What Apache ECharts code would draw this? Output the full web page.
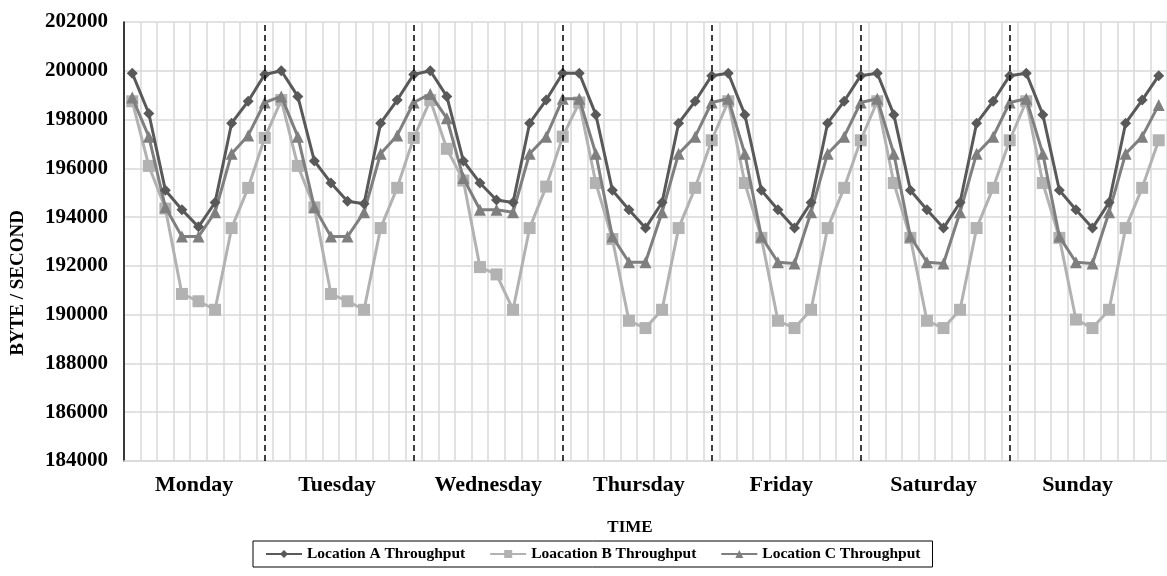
<!DOCTYPE html>
<html>
<head>
<meta charset="utf-8">
<script src="https://cdn.jsdelivr.net/npm/echarts@6/dist/echarts.min.js"></script>
<style>
  html, body { margin: 0; padding: 0; background: #fff; }
  #chart { width: 1167px; height: 576px; }
</style>
</head>
<body>
<div id="chart"></div>
<script>
// ---- data ----
const days = ['Monday', 'Tuesday', 'Wednesday', 'Thursday', 'Friday', 'Saturday', 'Sunday'];
const slotsPerDay = 9;
const dayDividers = [8, 17, 26, 35, 44, 53];
const yTicks = { min: 184000, max: 202000, step: 2000 };

const seriesNames = ['Location A Throughput', 'Loacation B Throughput', 'Location C Throughput'];

const locationA = [
  199900, 198250, 195100, 194300, 193600, 194600, 197850, 198750, 199850,
  200000, 198950, 196300, 195400, 194650, 194550, 197850, 198800, 199850,
  200000, 198950, 196300, 195400, 194700, 194600, 197850, 198800, 199900,
  199900, 198200, 195100, 194300, 193550, 194600, 197850, 198750, 199800,
  199900, 198200, 195100, 194300, 193550, 194600, 197850, 198750, 199800,
  199900, 198200, 195100, 194300, 193550, 194600, 197850, 198750, 199800,
  199900, 198200, 195100, 194300, 193550, 194600, 197850, 198800, 199800
];
const locationB = [
  198750, 196100, 194350, 190850, 190550, 190200, 193550, 195200, 197250,
  198800, 196100, 194400, 190850, 190550, 190200, 193550, 195200, 197250,
  198800, 196800, 195500, 191950, 191650, 190200, 193550, 195250, 197300,
  198700, 195400, 193100, 189750, 189450, 190200, 193550, 195200, 197150,
  198750, 195400, 193150, 189750, 189450, 190200, 193550, 195200, 197150,
  198750, 195400, 193150, 189750, 189450, 190200, 193550, 195200, 197150,
  198750, 195400, 193150, 189800, 189450, 190200, 193550, 195200, 197150
];
const locationC = [
  198900, 197300, 194400, 193200, 193200, 194200, 196600, 197350, 198700,
  198950, 197300, 194400, 193200, 193200, 194200, 196600, 197350, 198700,
  199050, 198050, 195600, 194300, 194300, 194200, 196600, 197300, 198850,
  198850, 196600, 193200, 192150, 192150, 194200, 196600, 197300, 198700,
  198850, 196600, 193200, 192150, 192100, 194200, 196600, 197300, 198700,
  198850, 196600, 193200, 192150, 192100, 194200, 196600, 197300, 198700,
  198850, 196600, 193200, 192150, 192100, 194200, 196600, 197300, 198600
];

// ---- layout (not data) ----
const dayLabelCenters = [3.73, 12.36, 21.5, 30.6, 39.2, 48.4, 57.1];
const FONT = '"Liberation Serif", "Times New Roman", serif';

const categories = [];
days.forEach(d => { for (let s = 1; s <= slotsPerDay; s++) categories.push(d + ' ' + s); });

const chart = echarts.init(document.getElementById('chart'), null, { renderer: 'canvas' });

const colors = ['#595959', '#b2b2b2', '#7f7f7f'];
const symbols = ['diamond', 'rect', 'triangle'];
const symbolSizes = [11, 12, 12];
const values = [locationA, locationB, locationC];

const series = values.map((arr, k) => ({
  name: seriesNames[k],
  type: 'line',
  xAxisIndex: 0,
  data: arr,
  symbol: symbols[k],
  symbolSize: symbolSizes[k],
  showSymbol: true,
  showAllSymbol: true,
  color: colors[k],
  lineStyle: { width: 3, color: colors[k] },
  itemStyle: { color: colors[k], opacity: 1 },
  z: [4, 2, 3][k],
  animation: false
}));

series[0].markLine = {
  silent: true,
  symbol: 'none',
  label: { show: false },
  lineStyle: { color: '#000', type: [6, 4], width: 1.5 },
  data: dayDividers.map(i => ({ xAxis: i })),
  animation: false
};

chart.setOption({
  backgroundColor: '#fff',
  animation: false,
  grid: { left: 124, top: 22, bottom: 115, right: -5, containLabel: false },
  xAxis: [
    {
      type: 'category',
      data: categories,
      boundaryGap: true,
      axisLine: { show: true, lineStyle: { color: '#d9d9d9', width: 1.5 } },
      axisTick: { show: false },
      axisLabel: { show: false },
      splitLine: { show: true, interval: 0, lineStyle: { color: '#d9d9d9', width: 1.5 } }
    },
    {
      type: 'value',
      min: -0.5,
      max: categories.length - 0.5,
      position: 'bottom',
      axisLine: { show: false },
      axisTick: { show: false },
      splitLine: { show: false },
      axisLabel: {
        customValues: dayLabelCenters,
        margin: 13,
        fontFamily: FONT,
        fontWeight: 'bold',
        fontSize: 22,
        color: '#000',
        formatter: function (v) {
          let best = 0, bd = Infinity;
          dayLabelCenters.forEach((c, i) => { const d = Math.abs(c - v); if (d < bd) { bd = d; best = i; } });
          return days[best];
        }
      }
    }
  ],
  yAxis: {
    type: 'value',
    min: yTicks.min,
    max: yTicks.max,
    interval: yTicks.step,
    axisLine: { show: true, onZero: false, lineStyle: { color: '#000', width: 1.5 } },
    axisTick: { show: false },
    axisLabel: {
      margin: 16,
      fontFamily: FONT,
      fontWeight: 'bold',
      fontSize: 21,
      color: '#000',
      formatter: v => String(v)
    },
    splitLine: { show: true, lineStyle: { color: '#d9d9d9', width: 1.5 } }
  },
  legend: {
    data: seriesNames,
    left: 253,
    top: 541,
    orient: 'horizontal',
    borderColor: '#000',
    borderWidth: 1,
    padding: [5, 12, 5, 12],
    itemWidth: 36,
    itemHeight: 10,
    itemGap: 24,
    textStyle: { fontFamily: FONT, fontWeight: 'bold', fontSize: 15.5, color: '#000' }
  },
  graphic: [
    {
      type: 'text',
      x: 18, y: 283,
      rotation: Math.PI / 2,
      style: {
        text: 'BYTE / SECOND',
        fontFamily: FONT, fontWeight: 'bold', fontSize: 19,
        fill: '#000', align: 'center', verticalAlign: 'middle'
      }
    },
    {
      type: 'text',
      x: 630, y: 528,
      style: {
        text: 'TIME',
        fontFamily: FONT, fontWeight: 'bold', fontSize: 17,
        fill: '#000', align: 'center', verticalAlign: 'middle'
      }
    }
  ],
  series: series
});
</script>
</body>
</html>
